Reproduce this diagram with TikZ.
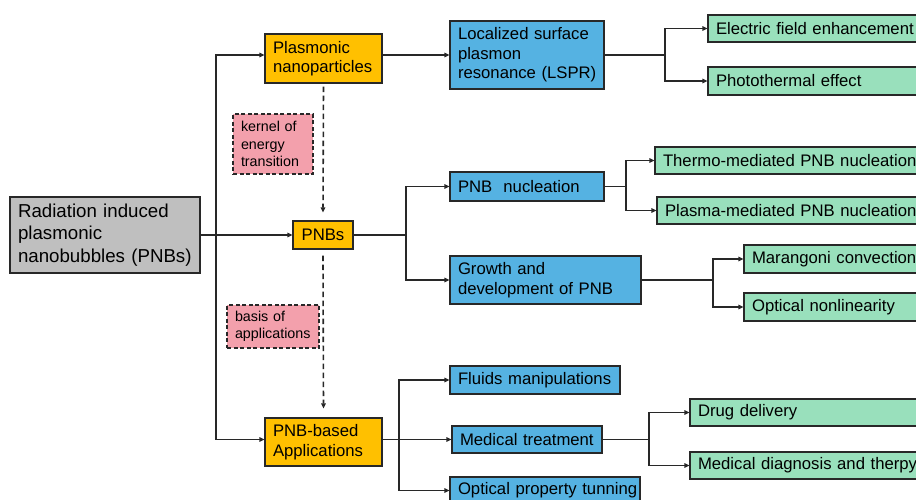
\documentclass[tikz,border=0pt]{standalone}
\usepackage{fontspec}
\setmainfont{Liberation Sans}
\usetikzlibrary{arrows.meta,calc}
\definecolor{orng}{RGB}{255,192,0}
\definecolor{blu}{RGB}{85,178,226}
\definecolor{grn}{RGB}{153,224,188}
\definecolor{pnk}{RGB}{243,160,172}
\definecolor{gry}{RGB}{191,191,191}
\definecolor{ln}{RGB}{40,40,40}
\newcommand\mybox[7]{%
  \pgfmathsetmacro\bw{#5-#3}\pgfmathsetmacro\bh{#6-#4}\pgfmathsetmacro\tw{#5-#3-16}%
  \node[#2, minimum width=\bw pt, minimum height=\bh pt, text width=\tw pt] (#1) at ({(#3+#5)/2},{(#4+#6)/2}) {#7};}
\begin{document}
\begin{tikzpicture}[x=1pt,y=-1pt,
  box/.style={draw=ln, line width=1.2pt, inner xsep=8pt, inner ysep=0pt, align=left,
    font=\fontsize{16.7}{19.5}\selectfont, text=black,
    execute at begin node={\hyphenpenalty=10000\exhyphenpenalty=10000}},
  orbox/.style={box, fill=orng},
  blbox/.style={box, fill=blu},
  grbox/.style={box, fill=grn},
  gybox/.style={box, fill=gry, font=\fontsize{18.7}{22.5}\selectfont},
  pkbox/.style={box, fill=pnk, dashed, dash pattern=on 4pt off 2.5pt, font=\fontsize{14.3}{17.5}\selectfont},
  line/.style={draw=ln, line width=1.2pt},
  conn/.style={line, -{Triangle[length=5pt,width=4.5pt]}},
  dconn/.style={conn, line width=1.6pt, dash pattern=on 5.5pt off 3.5pt}]
\useasboundingbox (0,0) rectangle (916,499);
\clip (0,0) rectangle (916,499);
\fill[white] (0,0) rectangle (916,499);

\mybox{gray}{gybox}{10}{197}{200}{273}{Radiation~induced\\plasmonic\\nanobubbles~(PNBs)}
\mybox{pnp}{orbox}{265}{34}{382}{83}{Plasmonic\\nanoparticles}
\mybox{kern}{pkbox}{233}{114}{313}{174}{kernel~of\\energy\\transition}
\mybox{pnbs}{orbox, align=center}{293}{221}{353}{249}{PNBs}
\mybox{basis}{pkbox}{227}{305}{319}{348}{basis~of\\applications}
\mybox{app}{orbox}{265}{418}{382}{466}{PNB-based\\Applications}

\mybox{lspr}{blbox}{450}{21}{604}{89}{Localized~surface\\plasmon\\resonance~(LSPR)}
\mybox{elec}{grbox}{708}{15}{935}{42}{Electric~field~enhancement}
\mybox{photo}{grbox}{708}{67}{935}{95}{Photothermal~effect}

\mybox{nuc}{blbox}{450}{172}{604}{201}{PNB\ \ nucleation}
\mybox{thermo}{grbox}{655}{147}{935}{174}{Thermo-mediated~PNB~nucleation}
\mybox{plasma}{grbox}{657}{197}{935}{224}{Plasma-mediated~PNB~nucleation}

\mybox{growth}{blbox}{450}{256}{641}{304}{Growth~and\\development~of~PNB}
\mybox{mar}{grbox}{744}{245}{935}{273}{Marangoni~convection}
\mybox{optn}{grbox}{744}{293}{935}{321}{Optical~nonlinearity}

\mybox{fluid}{blbox}{450}{366}{620}{394}{Fluids~manipulations}
\mybox{med}{blbox}{452}{426}{602}{453}{Medical~treatment}
\mybox{optp}{blbox}{450}{477}{640}{504}{\mbox{Optical~property~tunning}}
\mybox{drug}{grbox}{690}{399}{935}{426}{Drug~delivery}
\mybox{diag}{grbox}{690}{452}{935}{479}{Medical~diagnosis~and~therpy}

% root
\coordinate (jr) at (216,235);
\draw[conn] (gray.east) -- (pnbs.west);
\draw[conn] (jr) |- (pnp.west |- lspr.west);
\draw[conn] (jr) |- (app.west |- med.west);
% dashed
\draw[dconn] ([yshift=-3pt]pnp.south) -- ([yshift=8pt]pnbs.north);
\draw[dconn] ([yshift=-6pt]pnbs.south) -- ([yshift=9pt]app.north);
% LSPR
\draw[conn] (pnp.east |- lspr.west) -- (lspr.west);
\coordinate (jl) at (665,55);
\draw[line] (lspr.east |- jl) -- (jl);
\draw[conn] (jl) |- (elec.west);
\draw[conn] (jl) |- (photo.west);
% PNBs
\coordinate (jp) at (406,235);
\draw[line] (pnbs.east) -- (jp);
\draw[conn] (jp) |- (nuc.west);
\draw[conn] (jp) |- (growth.west);
% nucleation
\coordinate (jn) at (626,186.5);
\draw[line] (nuc.east) -- (jn);
\draw[conn] (jn) |- (thermo.west);
\draw[conn] (jn) |- (plasma.west);
% growth
\coordinate (jg) at (713,280);
\draw[line] (growth.east) -- (jg);
\draw[conn] (jg) |- (mar.west);
\draw[conn] (jg) |- (optn.west);
% applications
\coordinate (ja) at (399,439.5);
\draw[line] (app.east |- ja) -- (ja);
\draw[conn] (ja) |- (fluid.west);
\draw[conn] (ja) |- (med.west);
\draw[conn] (ja) |- (optp.west);
% medical
\coordinate (jm) at (649,439.5);
\draw[line] (med.east) -- (jm);
\draw[conn] (jm) |- (drug.west);
\draw[conn] (jm) |- (diag.west);
\end{tikzpicture}
\end{document}
